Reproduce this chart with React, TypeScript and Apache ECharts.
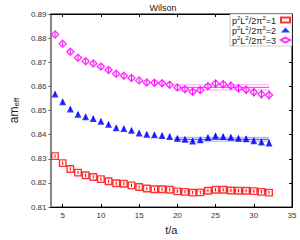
import React, { useEffect, useRef } from "react";
import * as echarts from "echarts";

const tValues = [4,5,6,7,8,9,10,11,12,13,14,15,16,17,18,19,20,21,22,23,24,25,26,27,28,29,30,31,32];
const seriesNames = ["p2L2/2pi2=1", "p2L2/2pi2=2", "p2L2/2pi2=3"];
const redValues = [0.8311,0.8282,0.8258,0.8243,0.8232,0.8225,0.8216,0.8207,0.8199,0.8197,0.8190,0.8183,0.8177,0.8174,0.8174,0.8172,0.8165,0.8163,0.8160,0.8161,0.8168,0.8172,0.8172,0.8169,0.8168,0.8168,0.8166,0.8163,0.8160];
const redErrors = [0.0003,0.0003,0.0003,0.0003,0.0003,0.0003,0.0003,0.0003,0.0003,0.0003,0.0003,0.0003,0.0003,0.0003,0.0003,0.0003,0.0003,0.0003,0.0003,0.0003,0.0003,0.0003,0.0003,0.0003,0.0003,0.0003,0.0003,0.0003,0.0003];
const blueValues = [0.8569,0.8536,0.8506,0.8485,0.8474,0.8467,0.8456,0.8443,0.8429,0.8426,0.8418,0.8407,0.8402,0.8400,0.8397,0.8393,0.8385,0.8381,0.8374,0.8379,0.8388,0.8396,0.8393,0.8389,0.8385,0.8383,0.8375,0.8370,0.8366];
const blueErrors = [0.0004,0.0004,0.0004,0.0004,0.0004,0.0004,0.0004,0.0004,0.0004,0.0004,0.0004,0.0005,0.0005,0.0005,0.0005,0.0005,0.0005,0.0005,0.0006,0.0006,0.0006,0.0006,0.0006,0.0007,0.0007,0.0007,0.0008,0.0008,0.0008];
const magentaValues = [0.8815,0.8777,0.8744,0.8719,0.8704,0.8695,0.8682,0.8668,0.8652,0.8644,0.8635,0.8625,0.8616,0.8615,0.8613,0.8607,0.8596,0.8588,0.8578,0.8585,0.8601,0.8612,0.8609,0.8603,0.8592,0.8586,0.8576,0.8568,0.8564];
const magentaErrors = [0.0005,0.0005,0.0005,0.0005,0.0005,0.0005,0.0006,0.0006,0.0006,0.0006,0.0007,0.0007,0.0007,0.0008,0.0008,0.0008,0.0009,0.0009,0.0010,0.0010,0.0010,0.0011,0.0011,0.0012,0.0012,0.0013,0.0013,0.0014,0.0015];
const fitRange = [19.6, 32];
const fitCenters = [0.8168, 0.8381, 0.8596];
const fitErrors = [0.0003, 0.0008, 0.0011];
const xTicks = [5, 10, 15, 20, 25, 30, 35];
const colors = ["#ff0000", "#0000ff", "#ff00ff"];
const symbols = ["rect", "triangle", "diamond"];

export default function App() {
  const ref = useRef<HTMLDivElement>(null);
  useEffect(() => {
    const chart = echarts.init(ref.current!, null, { renderer: "svg" });
    const allValues = [redValues, blueValues, magentaValues];
    const allErrors = [redErrors, blueErrors, magentaErrors];
    const series: any[] = [];
    const legendLabels = ["1", "2", "3"];
    for (let i = 0; i < 3; i++) {
      const pts = tValues.map((t, j) => [t, allValues[i][j], allErrors[i][j]]);
      const c = colors[i];
      series.push({
        type: "custom",
        silent: true,
        z: 3,
        data: [[fitRange[0], fitRange[1], fitCenters[i], fitErrors[i]]],
        renderItem: (params: any, api: any) => {
          const x0 = api.value(0), x1 = api.value(1), yc = api.value(2), e = api.value(3);
          const mk = (y: number, op: number) => {
            const a = api.coord([x0, y]);
            const b = api.coord([x1, y]);
            return { type: "line", shape: { x1: a[0], y1: a[1], x2: b[0], y2: b[1] }, style: { stroke: c, lineWidth: 1, opacity: op } };
          };
          return { type: "group", children: [mk(yc, 0.8), mk(yc + e, 0.35), mk(yc - e, 0.35)] };
        },
      });
      series.push({
        name: seriesNames[i],
        type: "scatter",
        z: 4,
        symbol: symbols[i],
        symbolSize: i === 0 ? 6.5 : 7,
        data: pts.map((p) => [p[0], p[1]]),
        itemStyle: i === 1
          ? { color: c }
          : { color: "#fff", borderColor: c, borderWidth: 1.4 },
      });
      series.push({
        type: "custom",
        silent: true,
        z: 5,
        data: pts,
        renderItem: (params: any, api: any) => {
          const x = api.value(0), y = api.value(1), e = api.value(2);
          const a = api.coord([x, y + e]);
          const b = api.coord([x, y - e]);
          return { type: "line", shape: { x1: a[0], y1: a[1] - 1, x2: b[0], y2: b[1] + 1 }, style: { stroke: c, lineWidth: 1 } };
        },
      });
    }
    chart.setOption({
      animation: false,
      title: {
        text: "Wilson",
        left: 163,
        top: 3,
        padding: 0,
        textAlign: "center",
        textStyle: { fontSize: 9, fontWeight: "normal", color: "#222", fontFamily: "Liberation Sans" },
      },
      legend: {
        data: seriesNames,
        orient: "vertical",
        right: 8,
        top: 14,
        align: "right",
        itemGap: 0,
        itemWidth: 9,
        itemHeight: 5,
        padding: [1, 1, 1, 2],
        backgroundColor: "#fff",
        borderColor: "#999",
        borderWidth: 0.5,
        formatter: (name: string) => {
          const k = legendLabels[seriesNames.indexOf(name)];
          return "{b|p}{s|2}{b|L}{s|2}{b|/2π}{s|2}{b|=" + k + "}";
        },
        textStyle: {
          fontFamily: "Liberation Sans",
          padding: [0, 0, 0, 0],
          rich: {
            b: { fontSize: 9, color: "#222", fontFamily: "Liberation Sans", lineHeight: 10, verticalAlign: "bottom" },
            s: { fontSize: 6, color: "#222", fontFamily: "Liberation Sans", lineHeight: 10, verticalAlign: "top", padding: [0, 0, 4, 0] },
          },
        },
      },
      grid: { left: 35, right: 8, top: 14, bottom: 21, show: true, borderColor: "#000", borderWidth: 1 },
      xAxis: [
        {
          type: "value",
          min: 3.4,
          max: 35,
          name: "t/a",
          nameLocation: "middle",
          nameGap: 13,
          nameTextStyle: { fontSize: 11, color: "#222", fontFamily: "Liberation Sans" },
          axisLine: { show: true, onZero: false, lineStyle: { color: "#000", width: 1 } },
          axisTick: { show: true, inside: true, length: 3, customValues: xTicks, lineStyle: { color: "#000" } },
          axisLabel: { customValues: xTicks, fontSize: 8, color: "#333", margin: 4, fontFamily: "Liberation Sans" },
          splitLine: { show: false },
        },
        {
          type: "value",
          position: "top",
          min: 3.4,
          max: 35,
          axisLine: { show: true, onZero: false, lineStyle: { color: "#000" } },
          axisTick: { show: true, inside: true, length: 3, customValues: xTicks, lineStyle: { color: "#000" } },
          axisLabel: { show: false },
          splitLine: { show: false },
        },
      ],
      yAxis: [
        {
          type: "value",
          min: 0.81,
          max: 0.89,
          interval: 0.01,
          name: "{a|am}{e|eff}",
          nameLocation: "middle",
          nameRotate: 90,
          nameGap: 24,
          nameTextStyle: {
            rich: {
              a: { fontSize: 12, color: "#222", fontFamily: "Liberation Sans", verticalAlign: "bottom", lineHeight: 14 },
              e: { fontSize: 8, color: "#222", fontFamily: "Liberation Sans", verticalAlign: "bottom", lineHeight: 10 },
            },
          },
          axisLine: { show: true, onZero: false, lineStyle: { color: "#888", width: 2 } },
          axisTick: { show: true, inside: false, length: 2, lineStyle: { color: "#555" } },
          axisLabel: { fontSize: 8, color: "#333", margin: 4, fontFamily: "Liberation Sans", formatter: (v: number) => v.toFixed(2) },
          splitLine: { show: false },
        },
        {
          type: "value",
          position: "right",
          min: 0.81,
          max: 0.89,
          interval: 0.01,
          axisLine: { show: true, onZero: false, lineStyle: { color: "#000" } },
          axisTick: { show: true, inside: true, length: 3, lineStyle: { color: "#000" } },
          axisLabel: { show: false },
          splitLine: { show: false },
        },
      ],
      series,
    });
    return () => chart.dispose();
  }, []);
  return <div ref={ref} style={{ width: 300, height: 240, position: "absolute", left: 0, top: 0, background: "#fff" }} />;
}
